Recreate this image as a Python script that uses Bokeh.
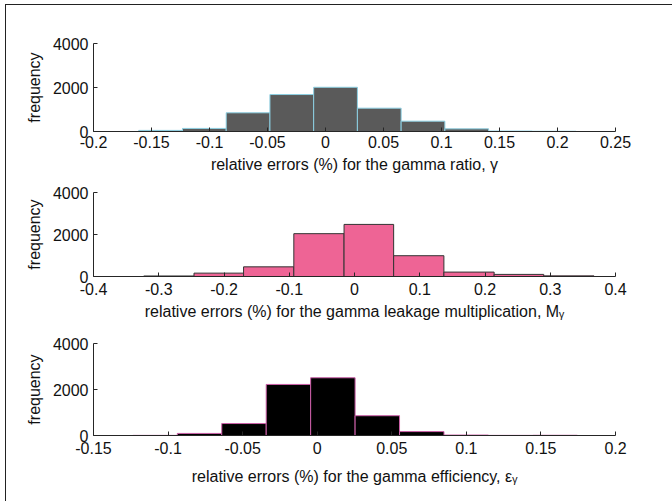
from bokeh.plotting import figure
from bokeh.models import Range1d, FixedTicker, ColumnDataSource
from bokeh.layouts import column
from bokeh.embed import file_html
from bokeh.resources import INLINE

# ---------------- data ----------------
# panel 1: gamma ratio
edges_1 = [-0.161, -0.1233, -0.0856, -0.0479, -0.0102, 0.0275, 0.0652, 0.1029, 0.1406, 0.1783, 0.216]
counts_1 = [50, 140, 850, 1680, 2010, 1060, 470, 120, 20, 10]
x_ticks_1 = [-0.2, -0.15, -0.1, -0.05, 0, 0.05, 0.1, 0.15, 0.2, 0.25]
x_labels_1 = ["-0.2", "-0.15", "-0.1", "-0.05", "0", "0.05", "0.1", "0.15", "0.2", "0.25"]
xlabel_1 = "relative errors (%) for the gamma ratio, \u03b3"

# panel 2: gamma leakage multiplication
edges_2 = [-0.323, -0.246, -0.170, -0.093, -0.016, 0.060, 0.137, 0.214, 0.290, 0.367]
counts_2 = [25, 160, 460, 2040, 2480, 990, 210, 100, 30]
x_ticks_2 = [-0.4, -0.3, -0.2, -0.1, 0, 0.1, 0.2, 0.3, 0.4]
x_labels_2 = ["-0.4", "-0.3", "-0.2", "-0.1", "0", "0.1", "0.2", "0.3", "0.4"]
xlabel_2 = "relative errors (%) for the gamma leakage multiplication, M\u1d67"

# panel 3: gamma efficiency
edges_3 = [-0.1236, -0.0938, -0.0640, -0.0342, -0.0044, 0.0254, 0.0552, 0.0850, 0.1148, 0.1446, 0.1744]
counts_3 = [5, 90, 520, 2220, 2510, 860, 170, 20, 5, 10]
x_ticks_3 = [-0.15, -0.1, -0.05, 0, 0.05, 0.1, 0.15, 0.2]
x_labels_3 = ["-0.15", "-0.1", "-0.05", "0", "0.05", "0.1", "0.15", "0.2"]
xlabel_3 = "relative errors (%) for the gamma efficiency, \u03b5\u1d67"

y_ticks = [0, 2000, 4000]
y_labels = ["0", "2000", "4000"]
ylabel = "frequency"

FONT = "Liberation Sans"
AXIS_COLOR = "#262626"


def make_panel(edges, counts, fill, line, x_ticks, x_labels, xlabel,
               top_border, frame_h, bottom_border, tick_standoff, label_standoff):
    p = figure(frame_width=522, frame_height=frame_h,
               x_range=Range1d(x_ticks[0], x_ticks[-1]),
               y_range=Range1d(y_ticks[0], y_ticks[-1]),
               output_backend="svg", toolbar_location=None,
               min_border_left=87, min_border_right=57,
               min_border_top=top_border, min_border_bottom=bottom_border)
    src = ColumnDataSource(dict(left=edges[:-1], right=edges[1:],
                                top=counts, bottom=[0] * len(counts)))
    p.quad(left="left", right="right", top="top", bottom="bottom", source=src,
           fill_color=fill, line_color=line, line_width=1)
    p.grid.visible = False
    p.outline_line_color = None
    p.background_fill_color = "white"
    p.border_fill_color = "white"

    xa = p.xaxis[0]
    xa.ticker = FixedTicker(ticks=x_ticks)
    xa.major_label_overrides = dict(zip(x_ticks, x_labels))
    xa.axis_label = xlabel
    xa.major_label_standoff = tick_standoff
    xa.axis_label_standoff = label_standoff

    ya = p.yaxis[0]
    ya.ticker = FixedTicker(ticks=y_ticks)
    ya.major_label_overrides = dict(zip(y_ticks, y_labels))
    ya.axis_label = ylabel
    ya.major_label_standoff = 5
    ya.axis_label_standoff = 7

    for ax in (xa, ya):
        ax.minor_tick_line_color = None
        ax.major_tick_in = 4
        ax.major_tick_out = 0
        ax.axis_line_color = AXIS_COLOR
        ax.major_tick_line_color = AXIS_COLOR
        ax.major_label_text_font = FONT
        ax.major_label_text_font_size = "16px"
        ax.major_label_text_color = "#111111"
        ax.axis_label_text_font = FONT
        ax.axis_label_text_font_size = "16px"
        ax.axis_label_text_font_style = "normal"
        ax.axis_label_text_color = "#111111"
    return p


p1 = make_panel(edges_1, counts_1, "#5a5a5a", "#8ccfe2", x_ticks_1, x_labels_1, xlabel_1,
                38, 88, 44, 4, 5)
p2 = make_panel(edges_2, counts_2, "#ee6495", "#333333", x_ticks_2, x_labels_2, xlabel_2,
                17, 84, 50, 6, 5)
p3 = make_panel(edges_3, counts_3, "#000000", "#cc5fa8", x_ticks_3, x_labels_3, xlabel_3,
                17, 92, 66, 6, 11)

layout = column(p1, p2, p3, margin=(4, 0, 0, 5),
                styles={"border-left": "1px solid #222", "border-top": "1px solid #222"})

open("out.html", "w").write(file_html(layout, INLINE))
